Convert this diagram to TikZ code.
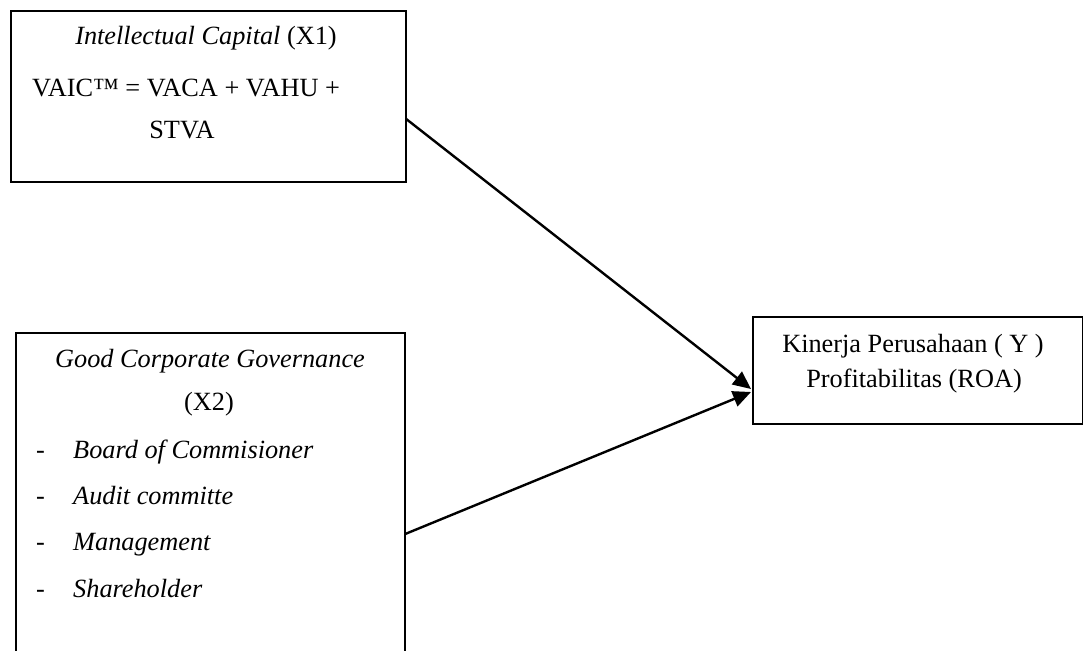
\documentclass[tikz,border=0pt]{standalone}
\usepackage{fontspec}
\setmainfont{Liberation Serif}
\usetikzlibrary{arrows.meta,calc}
\begin{document}
\begin{tikzpicture}[x=1pt,y=-1pt,
  box/.style={draw,line width=2.2pt,rectangle,inner sep=0pt,anchor=north west},
  txt/.style={inner sep=0pt,anchor=base,font=\fontsize{26.3}{30}\selectfont},
  ltxt/.style={txt,anchor=base west},
  arr/.style={line width=2.4pt,-{Triangle[length=18pt,width=16pt]}}]
\clip (0,0) rectangle (1083,650);
\fill[white] (0,0) rectangle (1083,650);
% boxes
\node[box,minimum width=395pt,minimum height=171pt] (b1) at (10,10) {};
\node[box,minimum width=389pt,minimum height=360pt] (b2) at (15,332) {};
\node[box,minimum width=330pt,minimum height=107pt] (b3) at (752,316) {};
% box 1 text
\node[txt] (t11) at (206,45) {\textit{Intellectual Capital} (X1)};
\node[ltxt] (t12) at (32,97) {VAIC™ = VACA + VAHU +};
\node[txt] (t13) at (182,138) {STVA};
% box 2 text
\node[txt] (t21) at (210,367) {\textit{Good Corporate Governance}};
\node[txt] (t22) at (209,410) {(X2)};
\foreach \yy/\lab/\nm in {458/Board of Commisioner/a,504/Audit committe/b,550/Management/c,597/Shareholder/d}{
  \node[ltxt] (dash\nm) at (36,\yy) {-};
  \node[ltxt] (item\nm) at (73,\yy) {\textit{\lab}};
}
% box 3 text
\node[txt] (t31) at (913,352) {Kinerja Perusahaan ( Y )};
\node[txt] (t32) at (914,387) {Profitabilitas (ROA)};
% arrows
\draw[arr] ($(b1.north east)+(-1,109)$) -- ($(b3.north west)+(-1,73)$);
\draw[arr] ($(b2.north east)+(-1,202)$) -- ($(b3.north west)+(-1,76)$);
\end{tikzpicture}
\end{document}
